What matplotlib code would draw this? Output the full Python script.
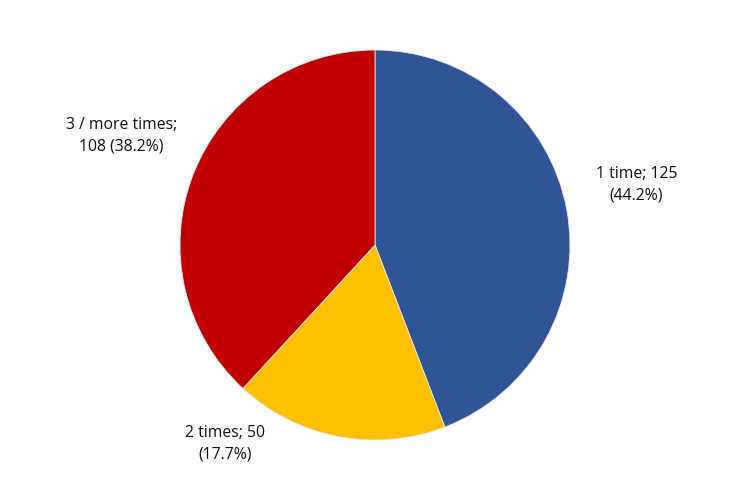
import matplotlib.pyplot as plt

# Data
categories = ['1 time', '2 times', '3 / more times']
counts = [125, 50, 108]
colors = ['#2F5597', '#FFC000', '#C00000']

# label texts as shown on the chart
labels = ['1 time; 125\n(44.2%)', '2 times; 50\n(17.7%)', '3 / more times;\n108 (38.2%)']
label_pos = [(1.34, 0.31), (-0.77, -1.02), (-1.30, 0.56)]

plt.rcParams['font.family'] = ['Open Sans', 'DejaVu Sans']

fig = plt.figure(figsize=(7.5, 4.9), dpi=100)
ax = fig.add_axes([0.24, 0.102, 0.52, 0.796])

wedges, _ = ax.pie(counts, colors=colors, startangle=90, counterclock=False,
                   radius=1, wedgeprops=dict(edgecolor='#e8e8e8', linewidth=0.6))

for txt, (x, y) in zip(labels, label_pos):
    ax.text(x, y, txt, ha='center', va='center', fontsize=11.3,
            color='#111111', linespacing=1.45)

ax.set_xlim(-1, 1)
ax.set_ylim(-1, 1)
ax.set_aspect('equal')
ax.axis('off')

fig.savefig('out.png', dpi=100)
